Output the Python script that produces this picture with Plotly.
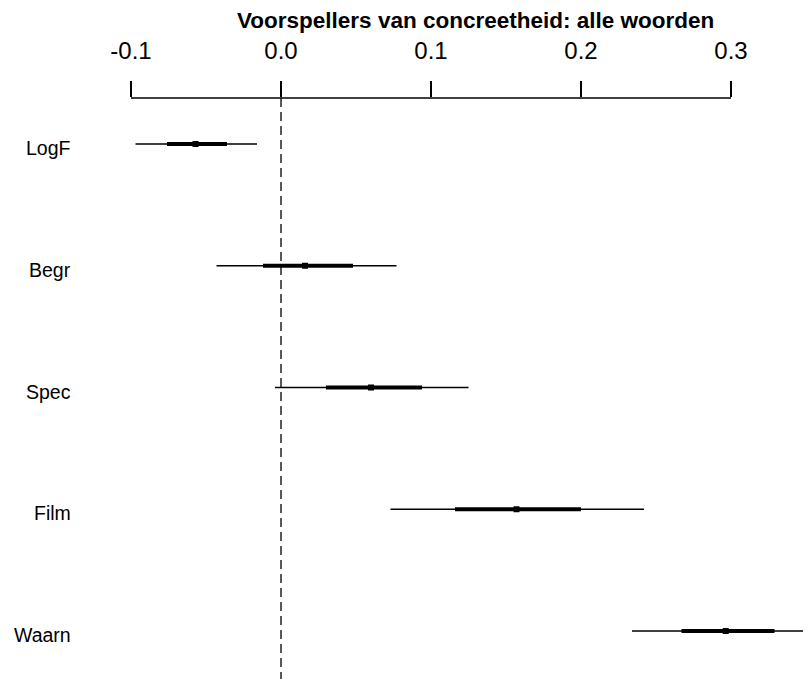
import plotly.graph_objects as go

variables = ["LogF", "Begr", "Spec", "Film", "Waarn"]
estimate = [-0.057, 0.016, 0.060, 0.157, 0.2965]
lo_95 = [-0.097, -0.043, -0.004, 0.073, 0.234]
hi_95 = [-0.016, 0.077, 0.125, 0.242, 0.359]
lo_50 = [-0.076, -0.012, 0.030, 0.116, 0.267]
hi_50 = [-0.036, 0.048, 0.094, 0.200, 0.329]
tick_vals = [-0.1, 0.0, 0.1, 0.2, 0.3]
tick_text = ["-0.1", "0.0", "0.1", "0.2", "0.3"]
title_text = "Voorspellers van concreetheid: alle woorden"

ypos = list(range(1, len(variables) + 1))

OFF = 8  # default page margin of the html body
W, H = 811, 679
TOP = 98 - OFF
PLOT_H = H - TOP

thin_x, thin_y, thick_x, thick_y = [], [], [], []
for i, y in enumerate(ypos):
    thin_x += [lo_95[i], hi_95[i], None]
    thin_y += [y, y, None]
    thick_x += [lo_50[i], hi_50[i], None]
    thick_y += [y, y, None]

fig = go.Figure()
fig.add_trace(go.Scatter(x=thin_x, y=thin_y, mode="lines",
                         line=dict(color="black", width=1.6), showlegend=False, hoverinfo="skip"))
fig.add_trace(go.Scatter(x=thick_x, y=thick_y, mode="lines",
                         line=dict(color="black", width=4.2), showlegend=False, hoverinfo="skip"))
fig.add_trace(go.Scatter(x=estimate, y=ypos, mode="markers",
                         marker=dict(symbol="square", size=6, color="black"),
                         showlegend=False, hoverinfo="skip"))

# vertical dashed reference line at zero
fig.add_shape(type="line", xref="x", yref="paper", x0=0, x1=0, y0=1, y1=0,
              line=dict(color="black", width=1.3, dash="9px,5px"), layer="below")
# axis baseline spanning the tick range
fig.add_shape(type="line", xref="x", yref="paper", x0=tick_vals[0], x1=tick_vals[-1], y0=1, y1=1,
              line=dict(color="black", width=1.6))

for v, y in zip(variables, ypos):
    fig.add_annotation(x=(73 - OFF) / W, xref="paper", y=y, yref="y", text=v, showarrow=False,
                       xanchor="right", yanchor="middle", yshift=-4,
                       font=dict(family="Liberation Sans, Arial", size=19.5, color="black"))

fig.add_annotation(x=(476 - OFF) / W, xref="paper", y=1 + (TOP - (21 - OFF)) / PLOT_H, yref="paper",
                   text="<b>" + title_text + "</b>", showarrow=False,
                   xanchor="center", yanchor="middle",
                   font=dict(family="Liberation Sans, Arial", size=22.5, color="black"))

fig.update_layout(
    width=W, height=H,
    margin=dict(l=0, r=0, t=TOP, b=0),
    plot_bgcolor="white", paper_bgcolor="white",
    xaxis=dict(side="top", range=[(OFF - 281) / 1500, (W + OFF - 281) / 1500],
               tickvals=tick_vals, ticktext=tick_text,
               ticks="outside", ticklen=16, tickwidth=1.6, tickcolor="black",
               showgrid=False, zeroline=False, showline=False, ticklabelstandoff=12,
               tickfont=dict(family="Liberation Sans, Arial", size=24, color="black")),
    yaxis=dict(range=[1 + (H + OFF - 144) / 121.75, 1 - 46 / 121.75], showticklabels=False, ticks="",
               showgrid=False, zeroline=False, showline=False),
)

fig.write_html("out.html")
